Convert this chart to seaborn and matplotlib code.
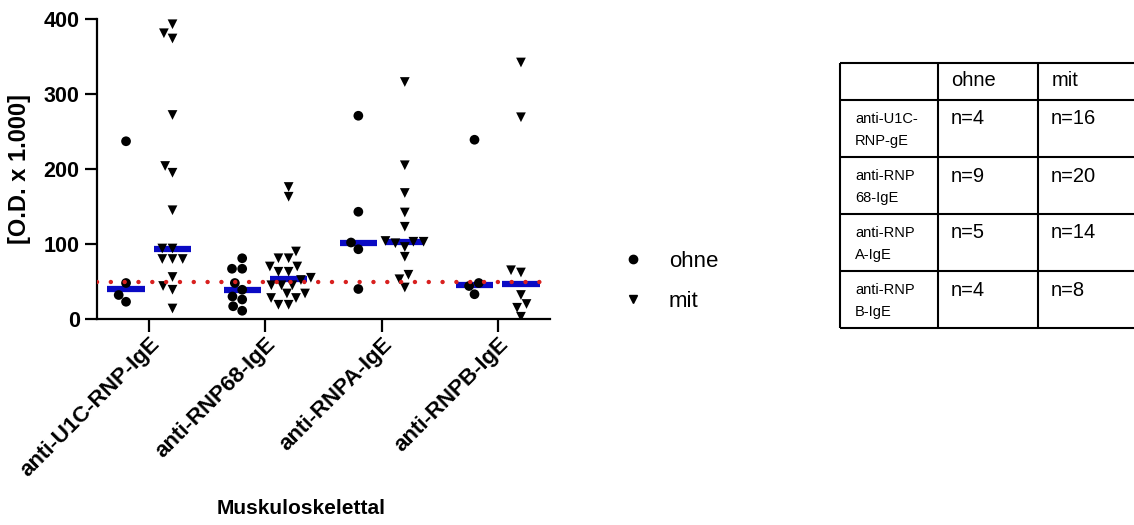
# %%
import matplotlib.pyplot as plt
import matplotlib.transforms as mtransforms
import numpy as np
import pandas as pd
import seaborn as sns
from matplotlib.lines import Line2D

# %%
groups = ["anti-U1C-RNP-IgE", "anti-RNP68-IgE", "anti-RNPA-IgE", "anti-RNPB-IgE"]
states = ["ohne", "mit"]

u1c_ohne = [237, 48, 32, 23]
u1c_mit = [393, 381, 374, 272, 204, 195, 145, 94, 94, 80, 80, 80, 56, 44, 39, 14]
rnp68_ohne = [81, 67, 67, 48, 39, 30, 26, 17, 11]
rnp68_mit = [176, 163, 90, 81, 81, 70, 70, 63, 63, 55, 52, 45, 45, 45, 34, 34, 28, 28, 19, 19]
rnpa_ohne = [271, 143, 102, 93, 40]
rnpa_mit = [316, 205, 168, 142, 123, 104, 103, 103, 101, 96, 83, 59, 53, 42]
rnpb_ohne = [239, 48, 44, 33]
rnpb_mit = [342, 269, 65, 62, 32, 20, 15, 3]

cutoff = 50

table_rows = ["anti-U1C-\nRNP-gE", "anti-RNP\n68-IgE", "anti-RNP\nA-IgE", "anti-RNP\nB-IgE"]

# %%
series = {
    (groups[0], "ohne"): u1c_ohne,
    (groups[0], "mit"): u1c_mit,
    (groups[1], "ohne"): rnp68_ohne,
    (groups[1], "mit"): rnp68_mit,
    (groups[2], "ohne"): rnpa_ohne,
    (groups[2], "mit"): rnpa_mit,
    (groups[3], "ohne"): rnpb_ohne,
    (groups[3], "mit"): rnpb_mit,
}
df = pd.concat(
    [pd.DataFrame({"group": g, "state": s, "value": v}) for (g, s), v in series.items()],
    ignore_index=True,
)

# %%
sns.set_style("ticks")
plt.rcParams["font.family"] = ["Liberation Sans", "DejaVu Sans"]
plt.rcParams["text.color"] = "black"
plt.rcParams["axes.labelcolor"] = "black"

fig = plt.figure(figsize=(11.34, 5.25), dpi=100)
ax = fig.add_axes([97 / 1134, 1 - 319 / 525, 453 / 1134, 300 / 525])

black = {"ohne": "black", "mit": "black"}
for state, marker in [("ohne", "o"), ("mit", "v")]:
    sns.swarmplot(
        data=df[df["state"] == state], x="group", y="value", hue="state",
        order=groups, hue_order=states, dodge=True, palette=black,
        marker=marker, size=7, linewidth=0, legend=False, zorder=3, ax=ax,
    )

sns.boxplot(
    data=df, x="group", y="value", hue="state", order=groups, hue_order=states,
    dodge=True, gap=0.2, showbox=False, showcaps=False, showfliers=False,
    whiskerprops={"visible": False},
    medianprops={"color": "#0a0ac4", "linewidth": 4.5, "solid_capstyle": "butt", "zorder": 2},
    legend=False, ax=ax,
)

ax.axhline(cutoff, color="#d8201f", linewidth=3.2, linestyle=(0, (0.01, 3.1)),
           dash_capstyle="round", zorder=4)

ax.set_xlim(-0.45, 3.45)
ax.set_ylim(0, 400)
ax.set_yticks([0, 100, 200, 300, 400])
sns.despine(ax=ax)
for sp in ["left", "bottom"]:
    ax.spines[sp].set_linewidth(1.6)
    ax.spines[sp].set_color("black")
ax.tick_params(axis="both", width=1.6, length=9, colors="black")
ax.set_yticklabels([0, 100, 200, 300, 400], fontweight="bold", fontsize=15.5)

ax.set_xticks(range(len(groups)))
ax.set_xticklabels(groups, rotation=45, ha="right", va="top",
                   rotation_mode="anchor", fontsize=16, fontweight="bold")
shift = mtransforms.ScaledTranslation(0, 2 / 72, fig.dpi_scale_trans)
for lab in ax.get_xticklabels():
    lab.set_transform(lab.get_transform() + shift)

ax.set_ylabel("[O.D. x 1.000]", fontsize=17, fontweight="bold", labelpad=9)
ax.set_xlabel("Muskuloskelettal", fontsize=15, fontweight="bold")
ax.xaxis.set_label_coords(0.45, -0.6)

# legend
handles = [
    Line2D([], [], marker="o", color="black", linestyle="none", markersize=6),
    Line2D([], [], marker="v", color="black", linestyle="none", markersize=6),
]
fig.legend(handles, states, loc="center left", bbox_to_anchor=(622 / 1134, 1 - 281.5 / 525),
           frameon=False, fontsize=16, handlelength=1, handletextpad=1.1,
           labelspacing=0.85, borderpad=0, borderaxespad=0)

# %%
# n table
tax = fig.add_axes([840 / 1134, 1 - 328 / 525, 300 / 1134, 265 / 525])
tax.set_xlim(0, 300)
tax.set_ylim(265, 0)
tax.axis("off")
col_x = [0, 98, 198, 300]
row_y = [0, 37, 94, 151, 208, 265]
lw = 1.5
tax.hlines(row_y, 0, 300, color="black", linewidth=lw, clip_on=False)
tax.vlines(col_x[:3], 0, 265, color="black", linewidth=lw, clip_on=False)
tax.text(111, 18, "ohne", fontsize=14.5, va="center", ha="left")
tax.text(212, 18, "mit", fontsize=14.5, va="center", ha="left")
for i, label in enumerate(table_rows):
    top = row_y[i + 1]
    tax.text(15, top + 30, label, fontsize=10.5, va="center", ha="left", linespacing=1.75)
    for j, state in enumerate(states):
        n = len(series[(groups[i], state)])
        tax.text(col_x[j + 1] + 13, top + 19, f"n={n}", fontsize=14.5, va="center", ha="left")

plt.savefig("out.png", dpi=100)
